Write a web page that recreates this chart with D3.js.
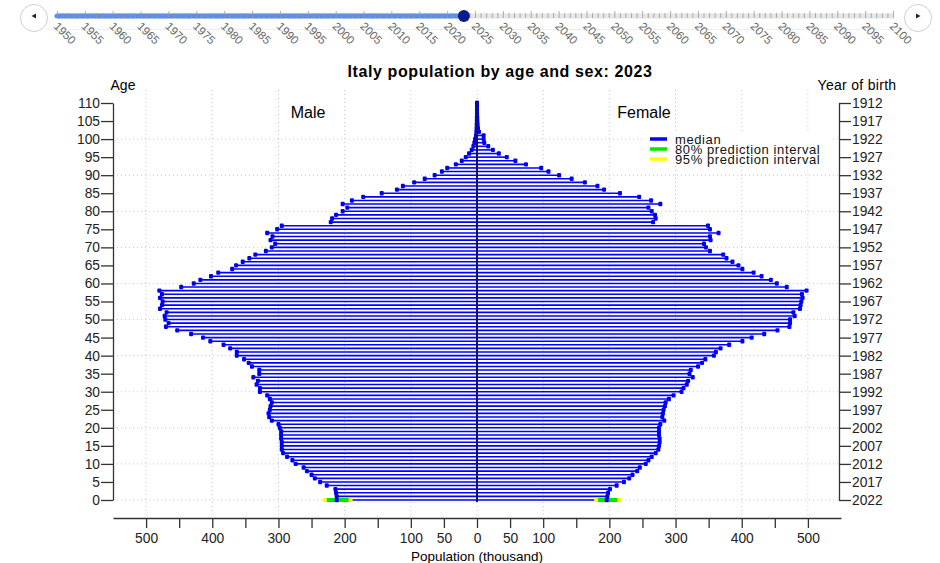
<!DOCTYPE html>
<html>
<head>
<meta charset="utf-8">
<script src="https://cdn.jsdelivr.net/npm/d3@7"></script>
<style>
  body { margin: 0; background: #fff; }
  svg text { font-family: "Liberation Sans", Arial, Helvetica, sans-serif; }
</style>
</head>
<body>
<div id="chart"></div>
<script>
// Median population (thousand) by single year of age, 0..110
var ages = d3.range(0, 111);

var male = [
  212, 212, 213, 214, 227, 237, 245, 250, 257, 262,
  274, 279, 287, 293, 295, 295, 295, 296, 296, 296,
  298, 300, 310, 314, 315, 313, 312, 310, 313, 317,
  328, 328, 333, 331, 338, 329, 329, 340, 345, 352,
  363, 363, 373, 383, 403, 414, 432, 453, 470, 466,
  471, 472, 469, 479, 476, 475, 479, 476, 480, 447,
  428, 418, 402, 391, 370, 364, 354, 344, 335, 319,
  310, 305, 312, 309, 317, 302, 295, 221, 219, 213,
  203, 196, 203, 189, 172, 144, 121, 112, 95, 79,
  64, 53, 45, 32, 23, 17, 12, 8, 5.5, 4,
  3, 1.5, 1, 0.7, 0.5, 0.3, 0.2, 0.1, 0.1, 0.05, 0.05
];

var female = [
  196, 197, 198, 201, 211, 222, 230, 235, 242, 246,
  255, 259, 264, 270, 274, 275, 276, 276, 275, 275,
  275, 277, 283, 280, 281, 282, 284, 285, 290, 297,
  309, 312, 317, 319, 326, 321, 323, 334, 340, 345,
  358, 361, 368, 381, 401, 415, 434, 454, 472, 473,
  473, 480, 478, 488, 489, 490, 492, 491, 498, 468,
  453, 444, 430, 418, 401, 395, 386, 377, 372, 352,
  346, 343, 353, 352, 365, 352, 349, 266, 270, 269,
  264, 259, 277, 263, 245, 216, 192, 182, 163, 143,
  124, 108, 97, 74, 58, 45, 33, 24, 17, 11,
  10, 10, 3, 1.5, 1, 0.6, 0.4, 0.2, 0.1, 0.1, 0.05
];

// Prediction intervals (only visible at age 0)
var male80 = [194, 227];
var male95 = [188, 233];
var female80 = [183, 212];
var female95 = [177, 219];

var popTicks = d3.range(-500, 501, 50);
var popLabelled = [0, 50, 100, 200, 300, 400, 500];
var ageTicks = d3.range(0, 111, 5);
var baseYear = 2022;

var sliderYears = d3.range(1950, 2101);
var currentYear = 2023;

var legendItems = [
  { label: 'median', colour: '#0000ff' },
  { label: '80% prediction interval', colour: '#00e600' },
  { label: '95% prediction interval', colour: '#ffff00' }
];

function drawSlider(svg) {
  var sx = d3.scaleLinear().domain([1950, 2100]).range([57, 893]);

  svg.append('line')
    .attr('x1', 47).attr('x2', 903)
    .attr('y1', 29.5).attr('y2', 29.5)
    .style('stroke', '#eeeeee');

  svg.append('line')
    .attr('x1', sx(1950)).attr('x2', sx(2100))
    .attr('y1', 16).attr('y2', 16)
    .style('stroke', '#e6e6e6')
    .style('stroke-width', 5);

  svg.append('line')
    .attr('x1', sx(1950)).attr('x2', sx(currentYear))
    .attr('y1', 16).attr('y2', 16)
    .style('stroke', '#5b8ee6')
    .style('stroke-width', 5)
    .style('stroke-linecap', 'round');

  svg.selectAll('line.yeartick')
    .data(sliderYears)
    .enter()
    .append('line')
    .attr('class', 'yeartick')
    .attr('x1', d => sx(d) + 0.5).attr('x2', d => sx(d) + 0.5)
    .attr('y1', d => d % 5 === 0 ? 11 : 13)
    .attr('y2', 18)
    .style('stroke', '#999')
    .style('stroke-width', 0.8);

  svg.selectAll('text.yearlabel')
    .data(sliderYears.filter(d => d % 5 === 0))
    .enter()
    .append('text')
    .attr('class', 'yearlabel')
    .attr('transform', d => 'translate(' + (sx(d) - 4) + ',27) rotate(45)')
    .style('font-size', '11.5px')
    .style('fill', '#666')
    .text(d => d);

  svg.append('circle')
    .attr('cx', sx(currentYear)).attr('cy', 16).attr('r', 6)
    .style('fill', '#0b1a8c');

  // previous / next buttons
  [[34, -1], [918, 1]].forEach(b => {
    svg.append('circle')
      .attr('cx', b[0]).attr('cy', 18).attr('r', 13.5)
      .style('fill', '#fff')
      .style('stroke', '#cfcfcf');
    svg.append('path')
      .attr('d', d3.line()([[b[0] + 2.5 * b[1], 16], [b[0] - 2 * b[1], 13.5], [b[0] - 2 * b[1], 18.5]]))
      .style('fill', '#222');
  });
}

function drawPyramid(svg) {
  var x = d3.scaleLinear().domain([-550, 550]).range([113, 841]);
  var y = d3.scaleLinear().domain([0, 110]).range([500, 103]);

  // grid
  svg.selectAll('line.vgrid')
    .data(d3.range(-500, 501, 100))
    .enter()
    .append('line')
    .attr('x1', d => x(d)).attr('x2', d => x(d))
    .attr('y1', 90).attr('y2', 515)
    .style('stroke', '#c8c8c8')
    .style('stroke-dasharray', '1,3');

  svg.selectAll('line.hgrid')
    .data(d3.range(0, 101, 10))
    .enter()
    .append('line')
    .attr('x1', 113).attr('x2', 839)
    .attr('y1', d => y(d)).attr('y2', d => y(d))
    .style('stroke', '#c8c8c8')
    .style('stroke-dasharray', '1,3');

  // bars
  var sides = [
    { values: male, sign: -1, p80: male80, p95: male95 },
    { values: female, sign: 1, p80: female80, p95: female95 }
  ];

  sides.forEach(side => {
    svg.append('g')
      .selectAll('line')
      .data(ages)
      .enter()
      .append('line')
      .attr('x1', x(0))
      .attr('x2', d => x(side.sign * side.values[d]))
      .attr('y1', d => y(d)).attr('y2', d => y(d))
      .style('stroke', '#0000ff')
      .style('stroke-width', 1.6);

    svg.append('line')
      .attr('x1', x(side.sign * side.p95[0])).attr('x2', x(side.sign * side.p95[1]))
      .attr('y1', y(0)).attr('y2', y(0))
      .style('stroke', '#ffff00')
      .style('stroke-width', 4);

    svg.append('line')
      .attr('x1', x(side.sign * side.p80[0])).attr('x2', x(side.sign * side.p80[1]))
      .attr('y1', y(0)).attr('y2', y(0))
      .style('stroke', '#00e600')
      .style('stroke-width', 4);

    svg.append('g')
      .selectAll('rect')
      .data(ages)
      .enter()
      .append('rect')
      .attr('x', d => x(side.sign * side.values[d]) - 2)
      .attr('y', d => y(d) - 2.2)
      .attr('width', 4)
      .attr('height', 4.4)
      .attr('rx', 1)
      .style('fill', '#0000f0');
  });

  svg.append('line')
    .attr('x1', x(0)).attr('x2', x(0))
    .attr('y1', y(0) + 2).attr('y2', y(110) - 2)
    .style('stroke', '#10106a')
    .style('stroke-width', 2);

  // axes
  var leftAxis = svg.append('g')
    .attr('transform', 'translate(113,0)')
    .call(d3.axisLeft(y).tickValues(ageTicks).tickSize(12).tickSizeOuter(0).tickPadding(1));

  var rightAxis = svg.append('g')
    .attr('transform', 'translate(839,0)')
    .call(d3.axisRight(y).tickValues(ageTicks).tickSize(12).tickSizeOuter(0).tickPadding(1)
      .tickFormat(d => baseYear - d));

  var bottomAxis = svg.append('g')
    .attr('transform', 'translate(0,518)')
    .call(d3.axisBottom(x).tickValues(popTicks).tickSize(10).tickSizeOuter(0).tickPadding(5)
      .tickFormat(d => popLabelled.indexOf(Math.abs(d)) >= 0 ? Math.abs(d) : ''));

  [leftAxis, rightAxis, bottomAxis].forEach(a => {
    a.selectAll('path, line').style('stroke', '#333').style('stroke-width', 1.3);
    a.selectAll('text').style('font-size', '13.8px').style('fill', '#222')
      .style('font-family', '"Liberation Sans", Arial, sans-serif');
  });

  // titles
  svg.append('text')
    .attr('x', 500).attr('y', 77)
    .attr('text-anchor', 'middle')
    .style('font-size', '16px')
    .style('font-weight', 'bold')
    .style('letter-spacing', '0.6px')
    .text('Italy population by age and sex: 2023');

  svg.append('text').attr('x', 123).attr('y', 90).attr('text-anchor', 'middle')
    .style('font-size', '14px').text('Age');
  svg.append('text').attr('x', 857).attr('y', 90).attr('text-anchor', 'middle')
    .style('font-size', '14px').style('letter-spacing', '0.3px').text('Year of birth');
  svg.append('text').attr('x', 308).attr('y', 118).attr('text-anchor', 'middle')
    .style('font-size', '16px').text('Male');
  svg.append('text').attr('x', 644).attr('y', 118).attr('text-anchor', 'middle')
    .style('font-size', '16px').text('Female');
  svg.append('text').attr('x', 477).attr('y', 561).attr('text-anchor', 'middle')
    .style('font-size', '13.5px').text('Population (thousand)');

  // legend
  var legend = svg.append('g').attr('transform', 'translate(643,131)');
  legend.append('rect')
    .attr('width', 188).attr('height', 35)
    .style('fill', '#fff');

  var rows = legend.selectAll('g.item')
    .data(legendItems)
    .enter()
    .append('g')
    .attr('transform', (d, i) => 'translate(0,' + (8 + i * 10) + ')');

  rows.append('line')
    .attr('x1', 7).attr('x2', 24)
    .style('stroke', d => d.colour)
    .style('stroke-width', 3.5);

  rows.append('text')
    .attr('x', 32).attr('y', 4.5)
    .style('font-size', '13px')
    .style('letter-spacing', '0.6px')
    .style('fill', '#111')
    .text(d => d.label);
}

function init() {
  var svg = d3.select('#chart')
    .append('svg')
    .attr('width', 940)
    .attr('height', 563);

  drawSlider(svg);
  drawPyramid(svg);
}

window.onload = init;
</script>
</body>
</html>
